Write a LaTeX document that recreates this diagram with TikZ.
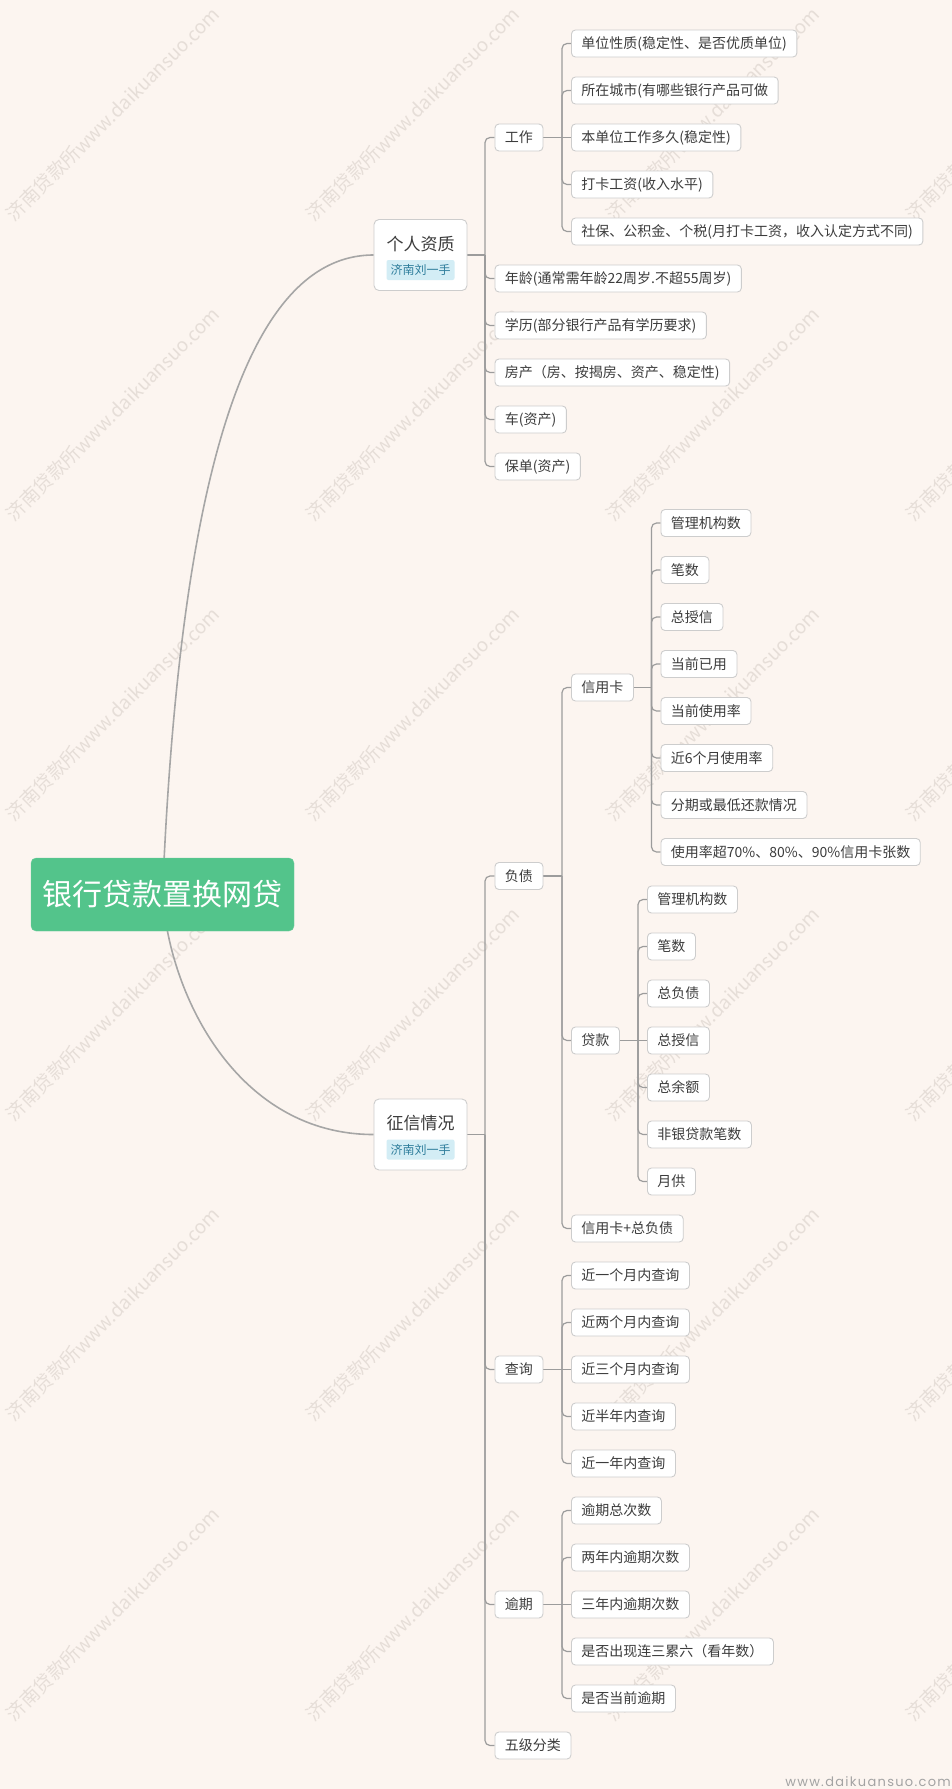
\documentclass[tikz,border=0pt]{standalone}
\usepackage{fontspec}
\setmainfont{Noto Sans CJK SC}
\newfontfamily\urlfont[LetterSpace=10]{Poppins}
\definecolor{bgc}{HTML}{FCF5F0}
\definecolor{wmc}{HTML}{E6DED8}
\definecolor{boxc}{HTML}{CDCDCD}
\definecolor{txt}{HTML}{3C3C3C}
\definecolor{linec}{HTML}{9C9C9C}
\definecolor{curvec}{HTML}{A6A6A6}
\definecolor{rootg}{HTML}{53C48B}
\definecolor{tagbg}{HTML}{D3EDF5}
\definecolor{tagtx}{HTML}{2F7E9C}
\definecolor{urlc}{HTML}{A3A3A3}
\pgfdeclarelayer{bgzero}
\pgfdeclarelayer{bgone}
\pgfsetlayers{bgzero,bgone,main}
\tikzset{
  leaf/.style={draw=boxc, fill=white, rounded corners=4pt, line width=0.9pt,
    minimum height=27pt, inner xsep=10pt, inner ysep=0pt, anchor=west,
    font=\fontsize{14}{16}\selectfont, text=txt},
  topbox/.style={draw=boxc, fill=white, rounded corners=5pt, line width=0.9pt,
    minimum width=93pt, minimum height=71pt, inner sep=0pt},
  toptitle/.style={inner sep=0pt, font=\fontsize{17}{19}\selectfont, text=txt},
  tagbox/.style={fill=tagbg, rounded corners=2pt, minimum width=68pt, minimum height=20pt,
    inner sep=0pt, font=\fontsize{12}{14}\selectfont, text=tagtx},
  rootbox/.style={fill=rootg, draw=rootg!85!white, rounded corners=5pt, minimum width=263pt,
    minimum height=73pt, inner sep=0pt, text=white, font=\fontsize{30}{34}\selectfont},
  link/.style={draw=linec, line width=1.2pt, rounded corners=5pt},
  curve/.style={draw=curvec, line width=1.6pt},
  wm/.style={text=wmc, rotate=45, inner sep=0pt, font=\fontsize{19}{21}\selectfont},
}
\begin{document}
\begin{tikzpicture}[x=1pt, y=-1pt]
\useasboundingbox (0,0) rectangle (952,1789);
\begin{pgfonlayer}{bgzero}
  \fill[bgc] (0,0) rectangle (952,1789);
  \begin{scope}
    \clip (0,0) rectangle (952,1789);
    \foreach \i in {0,...,3}{
      \foreach \j in {0,...,5}{
        \node[wm] (wm-\i-\j) at ({113+300*\i},{114+300*\j}) {济南贷款所www.daikuansuo.com};
      }
    }
  \end{scope}
\end{pgfonlayer}

% root and top-level boxes
\node[rootbox] (r) at (162.5,894.5) {银行贷款置换网贷};
\node[topbox] (p1) at (420.5,255) {};
\node[toptitle] (p1t) at (420.5,244) {个人资质};
\node[tagbox] (p1g) at (420.5,270) {济南刘一手};
\node[topbox] (p2) at (420.5,1134.5) {};
\node[toptitle] (p2t) at (420.5,1123.5) {征信情况};
\node[tagbox] (p2g) at (420.5,1149.5) {济南刘一手};

% 个人资质 branch
\node[leaf] (w1) at (494.5,137.5) {工作};
\node[leaf] (c2) at (494.5,278.5) {年龄(通常需年龄22周岁.不超55周岁)};
\node[leaf] (c3) at (494.5,325.5) {学历(部分银行产品有学历要求)};
\node[leaf] (c4) at (494.5,372.5) {房产（房、按揭房、资产、稳定性)};
\node[leaf] (c5) at (494.5,419.5) {车(资产)};
\node[leaf] (c6) at (494.5,466.5) {保单(资产)};
\node[leaf] (a1) at (571,43.5) {单位性质(稳定性、是否优质单位)};
\node[leaf] (a2) at (571,90.5) {所在城市(有哪些银行产品可做};
\node[leaf] (a3) at (571,137.5) {本单位工作多久(稳定性)};
\node[leaf] (a4) at (571,184.5) {打卡工资(收入水平)};
\node[leaf] (a5) at (571,231.5) {社保、公积金、个税(月打卡工资，收入认定方式不同)};

% 征信情况 branch
\node[leaf] (d) at (494.5,876) {负债};
\node[leaf] (q) at (494.5,1369.5) {查询};
\node[leaf] (o) at (494.5,1604.5) {逾期};
\node[leaf] (f) at (494.5,1745.5) {五级分类};

\node[leaf] (k) at (571,687.5) {信用卡};
\node[leaf] (l) at (571,1040.5) {贷款};
\node[leaf] (m) at (571,1228.5) {信用卡+总负债};

\node[leaf] (k1) at (660.5,523) {管理机构数};
\node[leaf] (k2) at (660.5,570) {笔数};
\node[leaf] (k3) at (660.5,617) {总授信};
\node[leaf] (k4) at (660.5,664) {当前已用};
\node[leaf] (k5) at (660.5,711) {当前使用率};
\node[leaf] (k6) at (660.5,758) {近6个月使用率};
\node[leaf] (k7) at (660.5,805) {分期或最低还款情况};
\node[leaf] (k8) at (660.5,852) {使用率超70\%、80\%、90\%信用卡张数};

\node[leaf] (l1) at (647,899.5) {管理机构数};
\node[leaf] (l2) at (647,946.5) {笔数};
\node[leaf] (l3) at (647,993.5) {总负债};
\node[leaf] (l4) at (647,1040.5) {总授信};
\node[leaf] (l5) at (647,1087.5) {总余额};
\node[leaf] (l6) at (647,1134.5) {非银贷款笔数};
\node[leaf] (l7) at (647,1181.5) {月供};

\node[leaf] (q1) at (571,1275.5) {近一个月内查询};
\node[leaf] (q2) at (571,1322.5) {近两个月内查询};
\node[leaf] (q3) at (571,1369.5) {近三个月内查询};
\node[leaf] (q4) at (571,1416.5) {近半年内查询};
\node[leaf] (q5) at (571,1463.5) {近一年内查询};

\node[leaf] (o1) at (571,1510.5) {逾期总次数};
\node[leaf] (o2) at (571,1557.5) {两年内逾期次数};
\node[leaf] (o3) at (571,1604.5) {三年内逾期次数};
\node[leaf] (o4) at (571,1651.5) {是否出现连三累六（看年数）};
\node[leaf] (o5) at (571,1698.5) {是否当前逾期};

\node[anchor=base east, inner sep=0pt, text=urlc, font=\urlfont\fontsize{13}{15}\selectfont] (url) at (951,1786) {www.daikuansuo.com};

% trunk coordinates
\coordinate (t1) at (485,255);
\coordinate (tw) at (562,137.5);
\coordinate (t2) at (485,1134.5);
\coordinate (td) at (562,876);
\coordinate (tk) at (651.5,687.5);
\coordinate (tl) at (638,1040.5);
\coordinate (tq) at (562,1369.5);
\coordinate (to) at (562,1604.5);

\begin{pgfonlayer}{bgone}
  \draw[curve] (r.center) .. controls (178,520) and (235,255) .. (p1.west);
  \draw[curve] (r.center) .. controls (170,1000) and (240,1134.5) .. (p2.west);

  \draw[link] (p1.east) -- (t1);
  \foreach \n in {w1,c2,c3,c4,c5,c6} \draw[link] (t1) |- (\n.west);
  \draw[link] (w1.east) -- (tw);
  \foreach \n in {a1,a2,a4,a5} \draw[link] (tw) |- (\n.west);
  \draw[link] (tw) -- (a3.west);

  \draw[link] (p2.east) -- (t2);
  \foreach \n in {d,q,o,f} \draw[link] (t2) |- (\n.west);
  \draw[link] (d.east) -- (td);
  \foreach \n in {k,l,m} \draw[link] (td) |- (\n.west);
  \draw[link] (k.east) -- (tk);
  \foreach \n in {k1,k2,k3,k4,k5,k6,k7,k8} \draw[link] (tk) |- (\n.west);
  \draw[link] (l.east) -- (tl);
  \foreach \n in {l1,l2,l3,l5,l6,l7} \draw[link] (tl) |- (\n.west);
  \draw[link] (tl) -- (l4.west);
  \draw[link] (q.east) -- (tq);
  \foreach \n in {q1,q2,q4,q5} \draw[link] (tq) |- (\n.west);
  \draw[link] (tq) -- (q3.west);
  \draw[link] (o.east) -- (to);
  \foreach \n in {o1,o2,o4,o5} \draw[link] (to) |- (\n.west);
  \draw[link] (to) -- (o3.west);
\end{pgfonlayer}
\end{tikzpicture}
\end{document}
